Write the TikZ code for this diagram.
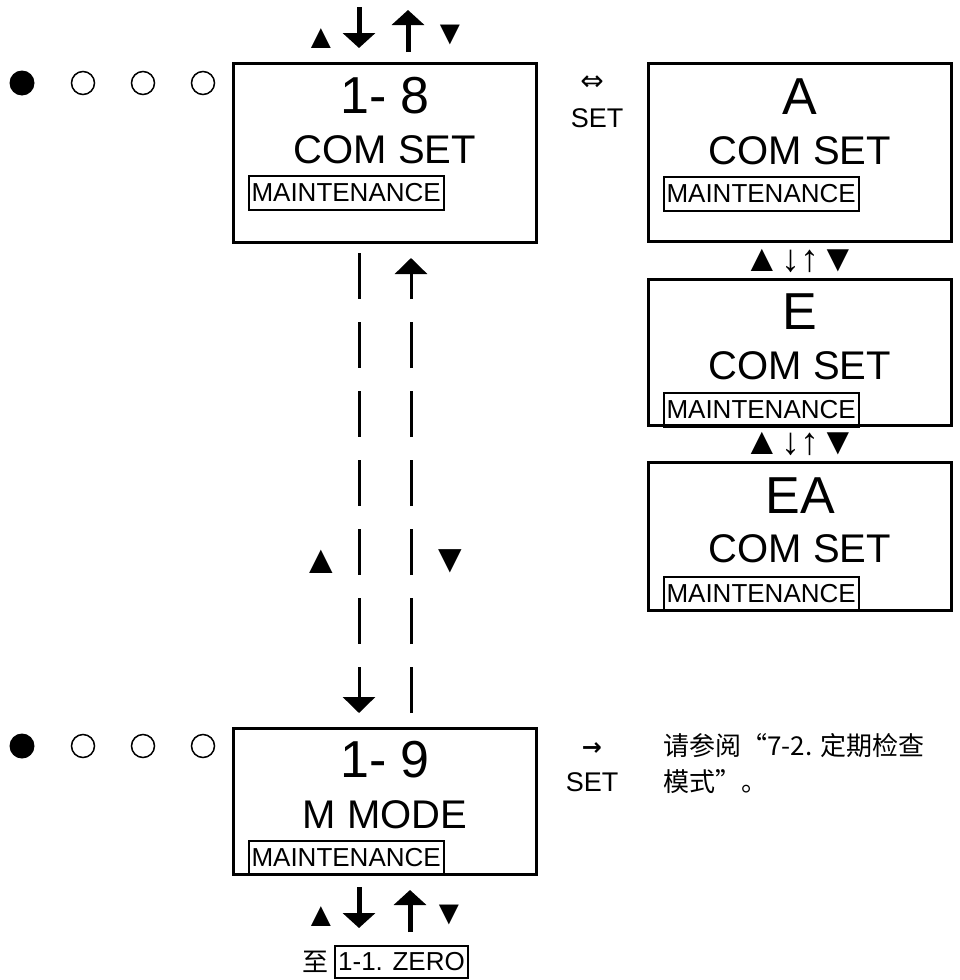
\documentclass[tikz,border=0pt]{standalone}
\usepackage{fontspec}
\setmainfont{Liberation Sans}
\newfontfamily\cjkfont{Noto Sans CJK SC}
\newfontfamily\symfont{DejaVu Sans}
\usetikzlibrary{arrows.meta,calc,positioning}
\tikzset{
  lcdbox/.style={draw, line width=3pt, minimum width=303pt, inner sep=0pt, outer sep=0pt},
  lcdbig/.style={font=\fontsize{52}{52}\selectfont, inner sep=0pt},
  lcdmid/.style={font=\fontsize{40}{40}\selectfont, inner sep=0pt},
  lcdtag/.style={draw, line width=2pt, font=\fontsize{26}{26}\selectfont, inner xsep=3pt, inner ysep=0pt, minimum height=34pt, anchor=north west},
  ledon/.style={circle, fill=black, minimum size=25pt, inner sep=0pt},
  ledoff/.style={circle, draw, line width=1.5pt, minimum size=23pt, inner sep=0pt},
  keytri/.style={font=\fontsize{40}{40}\selectfont, inner sep=0pt},
  keysmall/.style={font=\fontsize{34}{34}\selectfont, inner sep=0pt},
  keyrow/.style={font=\fontsize{38}{38}\selectfont, inner sep=0pt},
  setlbl/.style={font=\fontsize{27}{27}\selectfont, inner sep=0pt},
  symlbl/.style={font=\symfont\fontsize{28}{28}\selectfont, inner sep=0pt},
  cjktxt/.style={font=\cjkfont\fontsize{26}{36}\selectfont, align=left, inner sep=0pt},
  bigarrow/.style={line width=5pt, -{Triangle[length=15pt,width=32pt]}},
  dasharrow/.style={line width=3pt, dash pattern=on 46pt off 23pt, -{Triangle[length=16pt,width=32pt]}}
}

\begin{document}
\begin{tikzpicture}[x=1pt, y=-1pt]
  \useasboundingbox (0,0) rectangle (960,980);
  % display boxes
  \node[lcdbox, minimum height=179pt] (b18) at (385,152.5) {};
  \node[lcdbox, minimum height=178pt, right=112pt of b18] (bA) {};
  \node[lcdbox, minimum height=146pt, below=38pt of bA] (bE) {};
  \node[lcdbox, minimum height=148pt, below=37pt of bE] (bEA) {};
  \node[lcdbox, minimum height=146pt] (b19) at (385,801) {};

  \node[lcdbig] (n18) at ([yshift=-33pt]b18.north) {1- 8};
  \node[lcdmid] (c18) at ([yshift=-87pt]b18.north) {COM SET};
  \node[lcdtag] (m18) at ([xshift=14pt,yshift=-112pt]b18.north west) {MAINTENANCE};
  \node[lcdbig] (nA) at ([yshift=-33pt]bA.north) {A};
  \node[lcdmid] (cA) at ([yshift=-87pt]bA.north) {COM SET};
  \node[lcdtag] (mA) at ([xshift=14pt,yshift=-112pt]bA.north west) {MAINTENANCE};
  \node[lcdbig] (nE) at ([yshift=-32pt]bE.north) {E};
  \node[lcdmid] (cE) at ([yshift=-86pt]bE.north) {COM SET};
  \node[lcdtag] (mE) at ([xshift=14pt,yshift=-112pt]bE.north west) {MAINTENANCE};
  \node[lcdbig] (nEA) at ([yshift=-33pt]bEA.north) {EA};
  \node[lcdmid] (cEA) at ([yshift=-86pt]bEA.north) {COM SET};
  \node[lcdtag] (mEA) at ([xshift=14pt,yshift=-113pt]bEA.north west) {MAINTENANCE};
  \node[lcdbig] (n19) at ([yshift=-32pt]b19.north) {1- 9};
  \node[lcdmid] (c19) at ([yshift=-87pt]b19.north) {M MODE};
  \node[lcdtag] (m19) at ([xshift=14pt,yshift=-112pt]b19.north west) {MAINTENANCE};

  % indicator lamps
  \node[ledon] (l18a) at (22,83) {};
  \node[ledoff] (l18b) at (83,83) {};
  \node[ledoff] (l18c) at (143,83) {};
  \node[ledoff] (l18d) at (203,83) {};
  \node[ledon] (l19a) at (22,746) {};
  \node[ledoff] (l19b) at (83,746) {};
  \node[ledoff] (l19c) at (143,746) {};
  \node[ledoff] (l19d) at (203,746) {};

  % keys above 1-8
  \node[keysmall] (k18a) at (321,39) {▲};
  \node[keysmall] (k18b) at (450,35) {▼};
  \coordinate (k18d) at (359,7);
  \coordinate (k18u) at (408,10);
  \draw[bigarrow, shorten >=15pt] (k18d) -- (k18d |- b18.north);
  \draw[bigarrow, shorten <=11pt] (k18u |- b18.north) -- (k18u);

  % 1-8 <-> 1-9
  \coordinate (dl) at (359,0);
  \coordinate (dr) at (411,0);
  \draw[dasharrow, dash phase=58pt, shorten >=15pt] (b18.south -| dl) -- (b19.north -| dl);
  \draw[dasharrow, dash phase=54pt, shorten >=16pt] (b19.north -| dr) -- (b18.south -| dr);
  \node[keytri] (kma) at (321,562) {▲};
  \node[keytri] (kmb) at (450,561) {▼};

  % SET branches
  \node[symlbl] (swA) at (592,83) {⇔};
  \node[setlbl] (setA) at (597,118) {SET};
  \node[keyrow] (kAE) at ($(bA.south)!0.5!(bE.north)$) {▲↓↑▼};
  \node[keyrow] (kEEA) at ($(bE.south)!0.5!(bEA.north)$) {▲↓↑▼};
  \node[symlbl, font=\symfont\bfseries\fontsize{24}{24}\selectfont] (ar19) at (592,749) {→};
  \node[setlbl] (set19) at (592,782) {SET};
  \node[cjktxt, anchor=north west] (ref19) at (663,733) {请参阅“7-2. 定期检查\\模式”。};

  % keys below 1-9
  \node[lcdtag, anchor=center, minimum height=32pt] (zero) at (401.5,962) {1-1. ZERO};
  \node[cjktxt, left=5pt of zero] (to19) {至};
  \node[keysmall] (k19a) at (321,917) {▲};
  \node[keysmall] (k19b) at (449,915) {▼};
  \coordinate (k19d) at (359,928);
  \coordinate (k19u) at (410,890);
  \draw[bigarrow, shorten <=13pt] (k19d |- b19.south) -- (k19d);
  \draw[bigarrow, shorten <=13pt] (k19u |- zero.north) -- (k19u);
\end{tikzpicture}
\end{document}
